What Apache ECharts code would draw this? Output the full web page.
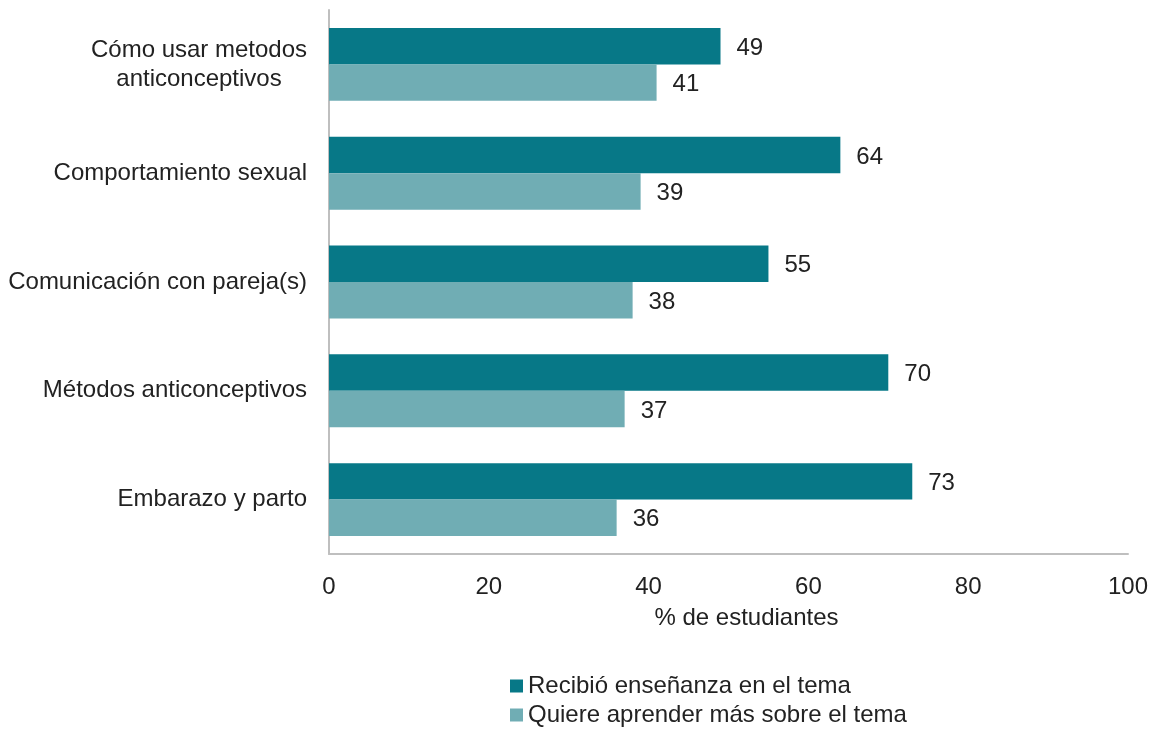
<!DOCTYPE html>
<html>
<head>
<meta charset="utf-8">
<script src="https://cdn.jsdelivr.net/npm/echarts@6/dist/echarts.min.js"></script>
<style>html,body{margin:0;padding:0;background:#fff;}#c{width:1152px;height:731px;}</style>
</head>
<body>
<div id="c"></div>
<script>
const categories = ["Cómo usar metodos\nanticonceptivos", "Comportamiento sexual", "Comunicación con pareja(s)", "Métodos anticonceptivos", "Embarazo y parto"];
const received = [49, 64, 55, 70, 73];
const wantMore = [41, 39, 38, 37, 36];
const seriesNames = ["Recibió enseñanza en el tema", "Quiere aprender más sobre el tema"];
const xTicks = [0, 20, 40, 60, 80, 100];

const FONT = "'Liberation Sans', Arial, sans-serif";
const FS = 24;
const TXT = '#222222';
const chart = echarts.init(document.getElementById('c'));
chart.setOption({
  animation: false,
  textStyle: {fontFamily: FONT},
  grid: {left: 329, right: 24, top: 10, bottom: 177, containLabel: false},
  legend: [
    {left: 505, top: 669, itemWidth: 13, itemHeight: 13, icon: 'rect', itemGap: 5,
     textStyle: {fontFamily: FONT, fontSize: FS, color: TXT}, data: [seriesNames[0]]},
    {left: 505, top: 698, itemWidth: 13, itemHeight: 13, icon: 'rect', itemGap: 5,
     textStyle: {fontFamily: FONT, fontSize: FS, color: TXT}, data: [seriesNames[1]]}
  ],
  xAxis: {
    type: 'value', min: xTicks[0], max: xTicks[xTicks.length-1], interval: 20,
    name: '% de estudiantes', nameLocation: 'middle', nameGap: 52,
    nameTextStyle: {fontFamily: FONT, fontSize: FS, color: TXT, padding: [0, 0, 0, 36]},
    axisLine: {show: true, lineStyle: {color: '#bfbfbf', width: 2}},
    axisTick: {show: false},
    splitLine: {show: false},
    axisLabel: {fontFamily: FONT, fontSize: FS, color: TXT, margin: 21}
  },
  yAxis: {
    type: 'category', data: categories, inverse: true,
    axisLine: {show: true, lineStyle: {color: '#bfbfbf', width: 2}},
    axisTick: {show: false},
    axisLabel: {fontFamily: FONT, fontSize: FS, color: TXT, margin: 22, lineHeight: 29,
      formatter: function (v) { return v.indexOf('\n') >= 0 ? '{c|' + v + '}' : v; },
      rich: {c: {fontFamily: FONT, fontSize: FS, color: TXT, lineHeight: 29, width: 216, align: 'center'}}
    }
  },
  series: [
    {name: seriesNames[0], type: 'bar', data: received, barGap: '0%', barCategoryGap: '33%',
     itemStyle: {color: '#077887'},
     label: {show: true, position: 'right', distance: 16, offset: [0, 2], fontFamily: FONT, fontSize: FS, color: TXT}},
    {name: seriesNames[1], type: 'bar', data: wantMore, barGap: '0%', barCategoryGap: '33%',
     itemStyle: {color: '#70adb4'},
     label: {show: true, position: 'right', distance: 16, offset: [0, 2], fontFamily: FONT, fontSize: FS, color: TXT}}
  ]
});
</script>
</body>
</html>
